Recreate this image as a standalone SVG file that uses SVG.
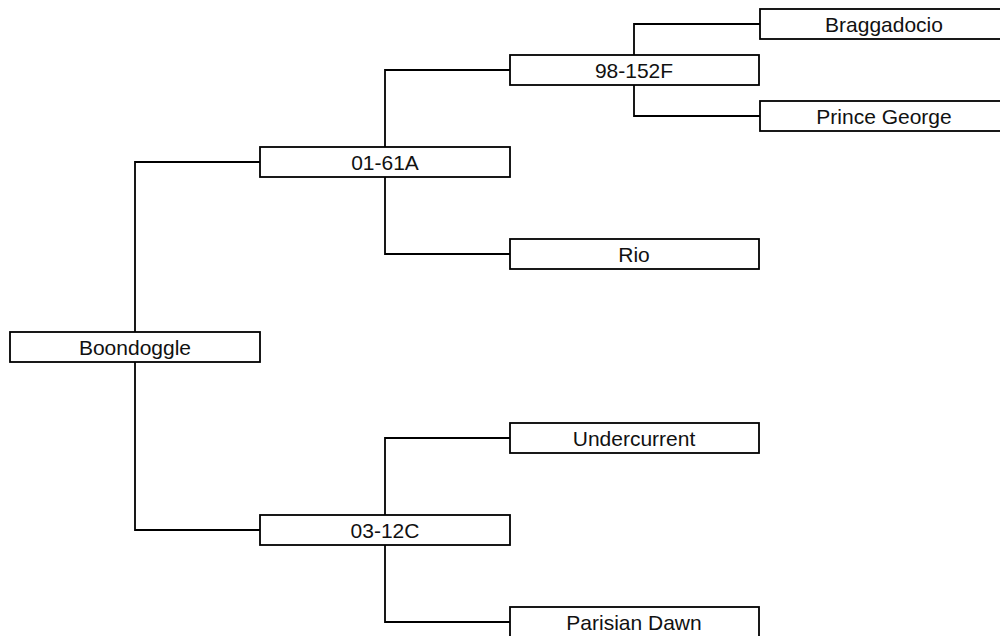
<svg xmlns="http://www.w3.org/2000/svg" width="1000" height="636" viewBox="0 0 1000 636">
<style>
.box{fill:#fff;stroke:#000;stroke-width:1.8}
.lbl{font-family:"Liberation Sans",Arial,sans-serif;font-size:21px;fill:#111;text-anchor:middle}
.conn{fill:none;stroke:#000;stroke-width:1.8}
</style>
<rect width="1000" height="636" fill="#fff"/>
<g id="connectors">
<path class="conn" d="M135,332 V162 H260"/>
<path class="conn" d="M135,362 V530 H260"/>
<path class="conn" d="M385,147 V70 H510"/>
<path class="conn" d="M385,177 V254 H510"/>
<path class="conn" d="M385,515 V438 H510"/>
<path class="conn" d="M385,545 V622 H510"/>
<path class="conn" d="M634,55 V24 H760"/>
<path class="conn" d="M634,85 V116 H760"/>
</g>
<g id="boondoggle"><rect class="box" x="10" y="332" width="250" height="30"/><text class="lbl" x="135" y="354.5">Boondoggle</text></g>
<g id="n01-61A"><rect class="box" x="260" y="147" width="250" height="30"/><text class="lbl" x="385" y="169.5">01-61A</text></g>
<g id="n03-12C"><rect class="box" x="260" y="515" width="250" height="30"/><text class="lbl" x="385" y="537.5">03-12C</text></g>
<g id="n98-152F"><rect class="box" x="510" y="55" width="249" height="30"/><text class="lbl" x="634" y="77.5">98-152F</text></g>
<g id="rio"><rect class="box" x="510" y="239" width="249" height="30"/><text class="lbl" x="634" y="261.5">Rio</text></g>
<g id="undercurrent"><rect class="box" x="510" y="423" width="249" height="30"/><text class="lbl" x="634" y="445.5">Undercurrent</text></g>
<g id="parisian-dawn"><rect class="box" x="510" y="607" width="249" height="30"/><text class="lbl" x="634" y="629.5">Parisian Dawn</text></g>
<g id="braggadocio"><rect class="box" x="760" y="9" width="250" height="30"/><text class="lbl" x="884" y="31.5">Braggadocio</text></g>
<g id="prince-george"><rect class="box" x="760" y="101" width="250" height="30"/><text class="lbl" x="884" y="123.5">Prince George</text></g>
</svg>
